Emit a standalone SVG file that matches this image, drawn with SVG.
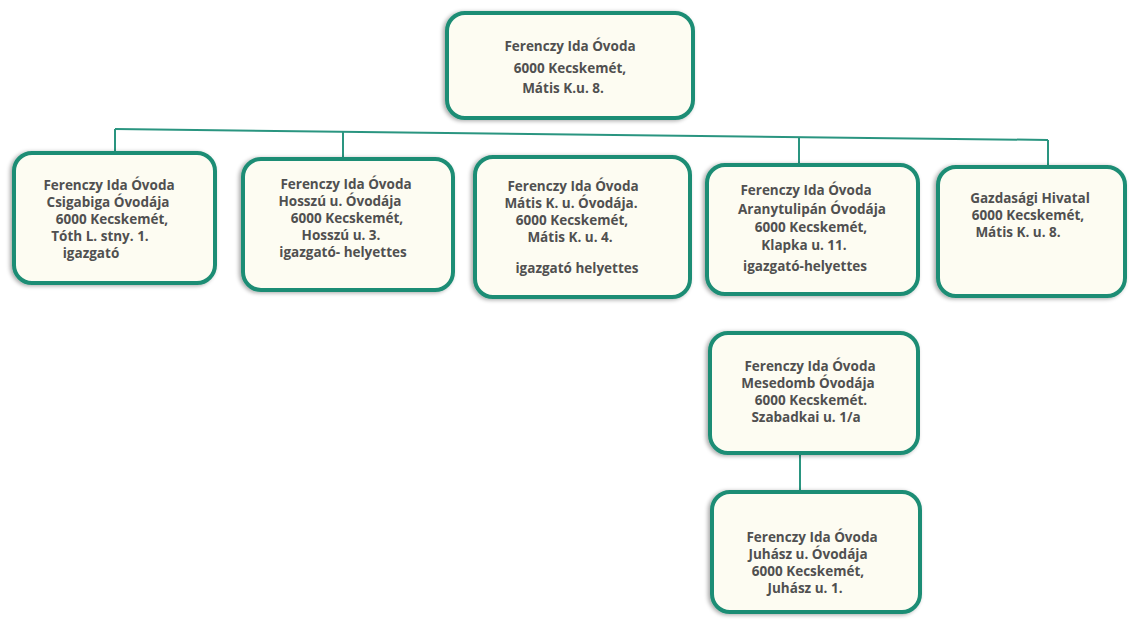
<svg xmlns="http://www.w3.org/2000/svg" width="1129" height="619" viewBox="0 0 1129 619">
<defs>
<filter id="sh" x="-10%" y="-10%" width="120%" height="120%">
<feGaussianBlur in="SourceAlpha" stdDeviation="2"/>
<feOffset dx="-2" dy="1" result="b"/>
<feComponentTransfer><feFuncA type="linear" slope="0.35"/></feComponentTransfer>
<feMerge><feMergeNode/><feMergeNode in="SourceGraphic"/></feMerge>
</filter>
</defs>
<style>
.box{fill:#fdfcf2;stroke:#1f8d74;stroke-width:4;filter:url(#sh)}
.t{font-family:"Open Sans","Liberation Sans",Arial,sans-serif;font-weight:bold;font-size:13.5px;fill:#505050;text-anchor:middle}
.c{fill:none;stroke:#2a9580;stroke-width:2}
</style>
<rect width="1129" height="619" fill="#ffffff"/>
<g id="connectors">
<path class="c" d="M115,129 L1048,140"/>
<path class="c" d="M115,129 V153"/>
<path class="c" d="M343,132 V159"/>
<path class="c" d="M799,138 V165"/>
<path class="c" d="M1048,140 V167"/>
<path class="c" d="M800,453 V492"/>
</g>
<g id="n0">
<rect class="box" x="447" y="13" width="246" height="105" rx="18"/>
<text class="t" x="570" y="51">Ferenczy Ida Óvoda</text>
<text class="t" x="570" y="73">6000 Kecskemét,</text>
<text class="t" x="563" y="93">Mátis K.u. 8.</text>
</g>
<g id="n1">
<rect class="box" x="14" y="153" width="201" height="130" rx="18"/>
<text class="t" x="109" y="190">Ferenczy Ida Óvoda</text>
<text class="t" x="108" y="207">Csigabiga Óvodája</text>
<text class="t" x="112" y="224">6000 Kecskemét,</text>
<text class="t" x="100" y="241">Tóth L. stny. 1.</text>
<text class="t" x="91" y="258">igazgató</text>
</g>
<g id="n2">
<rect class="box" x="243" y="159" width="210" height="131" rx="18"/>
<text class="t" x="346" y="189">Ferenczy Ida Óvoda</text>
<text class="t" x="340" y="206">Hosszú u. Óvodája</text>
<text class="t" x="347" y="223">6000 Kecskemét,</text>
<text class="t" x="341" y="240">Hosszú u. 3.</text>
<text class="t" x="343" y="257">igazgató- helyettes</text>
</g>
<g id="n3">
<rect class="box" x="475" y="157" width="215" height="140" rx="18"/>
<text class="t" x="573" y="191">Ferenczy Ida  Óvoda</text>
<text class="t" x="571" y="208">Mátis K. u. Óvodája.</text>
<text class="t" x="572" y="225">6000 Kecskemét,</text>
<text class="t" x="570" y="242">Mátis K. u. 4.</text>
<text class="t" x="577" y="273">igazgató helyettes</text>
</g>
<g id="n4">
<rect class="box" x="707" y="165" width="211" height="129" rx="18"/>
<text class="t" x="806" y="195">Ferenczy Ida Óvoda</text>
<text class="t" x="812" y="214">Aranytulipán Óvodája</text>
<text class="t" x="811" y="232">6000 Kecskemét,</text>
<text class="t" x="804" y="250">Klapka u. 11.</text>
<text class="t" x="805" y="271">igazgató-helyettes</text>
</g>
<g id="n5">
<rect class="box" x="938" y="167" width="187" height="129" rx="18"/>
<text class="t" x="1030" y="203">Gazdasági Hivatal</text>
<text class="t" x="1028" y="220">6000 Kecskemét,</text>
<text class="t" x="1018" y="237">Mátis K. u. 8.</text>
</g>
<g id="n6">
<rect class="box" x="710" y="333" width="208" height="120" rx="18"/>
<text class="t" x="810" y="371">Ferenczy Ida Óvoda</text>
<text class="t" x="808" y="388">Mesedomb Óvodája</text>
<text class="t" x="811" y="405">6000 Kecskemét.</text>
<text class="t" x="806" y="422">Szabadkai u. 1/a</text>
</g>
<g id="n7">
<rect class="box" x="712" y="492" width="208" height="120" rx="18"/>
<text class="t" x="812" y="542">Ferenczy Ida Óvoda</text>
<text class="t" x="808" y="559">Juhász u. Óvodája</text>
<text class="t" x="808" y="576">6000 Kecskemét,</text>
<text class="t" x="805" y="593">Juhász u. 1.</text>
</g>
</svg>
